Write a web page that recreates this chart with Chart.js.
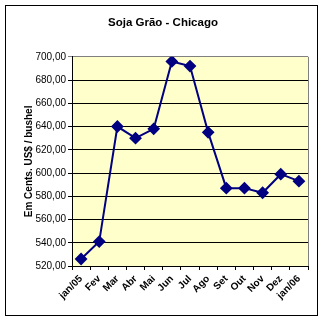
<!DOCTYPE html>
<html>
<head>
<meta charset="utf-8">
<script src="https://cdn.jsdelivr.net/npm/chart.js@4/dist/chart.umd.min.js"></script>
<style>
  html, body { margin: 0; padding: 0; background: #fff; }
  #wrap { width: 324px; height: 322px; }
</style>
</head>
<body>
<div id="wrap"><canvas id="chart"></canvas></div>
<script>
// Meses (eixo X) e cotações em cents de US$ por bushel
const meses = ['jan/05', 'Fev', 'Mar', 'Abr', 'Mai', 'Jun', 'Jul', 'Ago', 'Set', 'Out', 'Nov', 'Dez', 'jan/06'];
const cotacoes = [526, 541, 640, 630, 638, 696, 692, 635, 587, 587, 583, 599, 593];
const yMin = 520;
const yMax = 700;
const yStep = 20;

// fundo amarelo da área do gráfico e moldura externa
const moldura = {
    id: 'moldura',
    beforeDraw(chart) {
        const ctx = chart.ctx;
        const a = chart.chartArea;
        ctx.save();
        ctx.fillStyle = '#fff';
        ctx.fillRect(0, 0, chart.width, chart.height);
        ctx.fillStyle = '#FFFFCC';
        ctx.fillRect(a.left, a.top, a.right - a.left, a.bottom - a.top);
        ctx.restore();
    },
    afterDraw(chart) {
        const ctx = chart.ctx;
        const a = chart.chartArea;
        ctx.save();
        ctx.strokeStyle = '#808080';
        ctx.lineWidth = 1;
        ctx.beginPath();
        ctx.moveTo(Math.round(a.right) + 0.5, a.top);
        ctx.lineTo(Math.round(a.right) + 0.5, a.bottom);
        ctx.stroke();
        ctx.strokeStyle = '#000';
        ctx.strokeRect(5.5, 5.5, 312, 310);
        ctx.restore();
    }
};

const ctx = document.getElementById('chart').getContext('2d');
new Chart(ctx, {
    type: 'line',
    data: {
        labels: meses,
        datasets: [{
            data: cotacoes,
            borderColor: '#000080',
            backgroundColor: '#000080',
            borderWidth: 2,
            pointStyle: 'rectRot',
            pointRadius: 5,
            pointHoverRadius: 5,
            tension: 0
        }]
    },
    options: {
        responsive: true,
        maintainAspectRatio: false,
        animation: false,
        layout: { padding: { left: 18, right: 16, top: 0, bottom: 6 } },
        plugins: {
            legend: { display: false },
            tooltip: { enabled: false },
            title: {
                display: true,
                text: 'Soja Grão - Chicago',
                color: '#000',
                font: { family: 'Arial, Liberation Sans', size: 11.5, weight: 'bold' },
                padding: { top: 16, bottom: 27 }
            }
        },
        scales: {
            x: {
                offset: true,
                grid: { offset: true, drawOnChartArea: false, color: '#000', tickLength: 4 },
                border: { color: '#000' },
                ticks: {
                    color: '#000',
                    font: { family: 'Arial, Liberation Sans', size: 10, weight: 'bold' },
                    minRotation: 45,
                    maxRotation: 45,
                    autoSkip: false,
                    padding: 3
                },
                afterFit(scale) { scale.height = 50; }
            },
            y: {
                min: yMin,
                max: yMax,
                grid: {
                    color: c => c.tick && c.tick.value === yMax ? '#808080' : '#000',
                    tickLength: 4
                },
                border: { color: '#000' },
                ticks: {
                    stepSize: yStep,
                    color: '#000',
                    font: { family: 'Arial, Liberation Sans', size: 10 },
                    padding: 2,
                    callback: v => v.toFixed(2).replace('.', ',')
                },
                title: {
                    display: true,
                    text: 'Em Cents. US$ / bushel',
                    color: '#000',
                    font: { family: 'Arial, Liberation Sans', size: 10, weight: 'bold' },
                    padding: { top: 5, bottom: 0 }
                },
                afterFit(scale) { scale.width = 54; }
            }
        }
    },
    plugins: [moldura]
});
</script>
</body>
</html>
